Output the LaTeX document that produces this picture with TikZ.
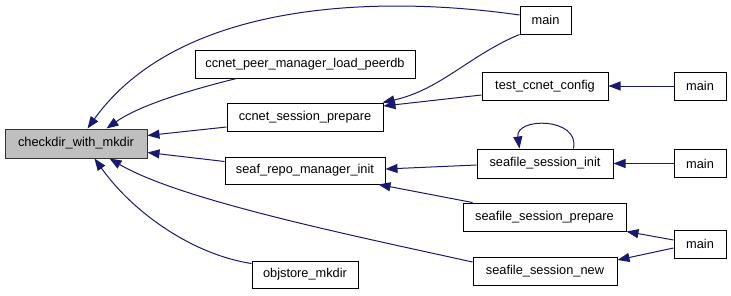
\documentclass[tikz,border=0pt]{standalone}
\usepackage{fontspec}
\setmainfont{Liberation Sans}
\usetikzlibrary{arrows.meta,calc}
\definecolor{edgeblue}{HTML}{191970}
\definecolor{focusgray}{HTML}{BFBFBF}
\tikzset{
  fn/.style={draw=black, fill=white, line width=1pt, inner sep=0pt,
    font=\fontsize{12.8}{15}\selectfont},
  focus/.style={fn, fill=focusgray, draw=black!80},
  call/.style={draw=edgeblue, line width=1pt,
    -{Triangle[length=12pt,width=9pt,fill=edgeblue]}},
}
\begin{document}
\begin{tikzpicture}[x=1pt,y=-1pt]
\useasboundingbox (0,0) rectangle (731,295);
% functions
\node[focus, minimum width=142pt, minimum height=29pt] (cd) at (76,143.5) {checkdir\_with\_mkdir};
\node[fn, minimum width=220pt, minimum height=28pt] (peer) at (305,64) {ccnet\_peer\_manager\_load\_peerdb};
\node[fn, minimum width=156pt, minimum height=28pt] (csp) at (305,117) {ccnet\_session\_prepare};
\node[fn, minimum width=160pt, minimum height=27pt] (srmi) at (305,170.5) {seaf\_repo\_manager\_init};
\node[fn, minimum width=106pt, minimum height=27pt] (obj) at (305,274.5) {objstore\_mkdir};
\node[fn, minimum width=51pt, minimum height=28pt] (mainA) at (545.5,20) {main};
\node[fn, minimum width=126pt, minimum height=28pt] (tcc) at (545,86) {test\_ccnet\_config};
\node[fn, minimum width=52pt, minimum height=28pt] (mainB) at (700,86) {main};
\node[fn, minimum width=136pt, minimum height=29pt] (ssi) at (545,163.5) {seafile\_session\_init};
\node[fn, minimum width=52pt, minimum height=28pt] (mainC) at (700,163.5) {main};
\node[fn, minimum width=163pt, minimum height=28pt] (ssp) at (544.5,217) {seafile\_session\_prepare};
\node[fn, minimum width=52pt, minimum height=28pt] (mainD) at (700,244) {main};
\node[fn, minimum width=144pt, minimum height=28pt] (ssn) at (545,271) {seafile\_session\_new};
% calls into checkdir_with_mkdir
\draw[call] ($(mainA.west)+(0,-5)$) .. controls (380,-5) and (180,0) .. ($(cd.north west)+(83,0)$);
\draw[call] ($(peer.south west)+(42,0)$) .. controls (190,90) and (140,105) .. ($(cd.north west)+(102,0)$);
\draw[call] ($(csp.west)+(0,10)$) -- ($(cd.east)+(0,-8)$);
\draw[call] ($(srmi.west)+(0,-9)$) -- ($(cd.east)+(0,9)$);
\draw[call] ($(ssn.west)+(0,-9)$) .. controls (350,235) and (180,200) .. ($(cd.south west)+(105,0)$);
\draw[call] ($(obj.west)+(0,-11)$) .. controls (195,255) and (135,215) .. ($(cd.south west)+(90,0)$);
% calls into ccnet_session_prepare
\draw[call] (mainA.south west) .. controls (470,55) and (440,90) .. ($(csp.north east)+(-1,0)$);
\draw[call] ($(tcc.west)+(0,9)$) -- ($(csp.east)+(0,-11)$);
\draw[call] (mainB.west) -- (tcc.east);
% calls into seaf_repo_manager_init
\draw[call] ($(ssi.west)+(0,1.5)$) -- ($(srmi.east)+(0,-1.5)$);
\draw[call] ($(ssp.north west)+(10,0)$) -- ($(srmi.south east)+(-7,0)$);
% seafile_session_init calls itself
\draw[call] ($(ssi.north east)+(-40,0)$) .. controls (580,117) and (515,117) .. ($(ssi.north west)+(43,0)$);
\draw[call] (mainC.west) -- (ssi.east);
% calls from the last main
\draw[call] ($(mainD.west)+(0,-4)$) -- (ssp.south east);
\draw[call] ($(mainD.west)+(0,4)$) -- ($(ssn.east)+(0,-11)$);
\end{tikzpicture}
\end{document}
